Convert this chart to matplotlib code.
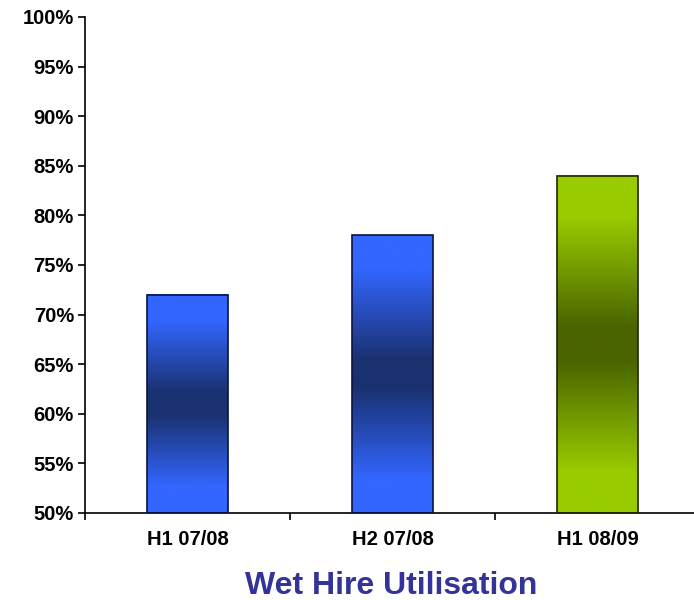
import numpy as np
import matplotlib.pyplot as plt
from matplotlib.colors import LinearSegmentedColormap
from matplotlib.patches import Rectangle

plt.rcParams['font.family'] = ['Liberation Sans', 'DejaVu Sans']

periods = ['H1 07/08', 'H2 07/08', 'H1 08/09']
utilisation = [72, 78, 84]
y_ticks = list(range(50, 101, 5))

# light -> dark -> light shading for each bar
bar_styles = [
    ('#3366ff', '#1a3170', '#0a1440'),
    ('#3366ff', '#1a3170', '#0a1440'),
    ('#99cc00', '#4a6400', '#1e2800'),
]

fig = plt.figure(figsize=(6.94, 6.0), dpi=100)
# category axis runs slightly past the right edge of the canvas
ax = fig.add_axes([85 / 694, 1 - 513 / 600, 615 / 694, 496 / 600])

ax.set_xlim(-0.5, len(periods) - 0.5)
ax.set_ylim(50, 100)

width = 0.395
grad = np.linspace(0, 1, 256).reshape(-1, 1)
for i, (val, (light, dark, edge)) in enumerate(zip(utilisation, bar_styles)):
    cmap = LinearSegmentedColormap.from_list(
        f'bar{i}', [(0.0, light), (0.12, light), (0.45, dark), (0.55, dark),
                    (0.88, light), (1.0, light)])
    x0, x1 = i - width / 2, i + width / 2
    ax.imshow(grad, cmap=cmap, aspect='auto', extent=(x0, x1, 50, val),
              origin='lower', interpolation='bilinear', zorder=2)
    ax.add_patch(Rectangle((x0, 50), width, val - 50, fill=False,
                           edgecolor=edge, linewidth=1.2, zorder=3))

ax.set_yticks(y_ticks)
ax.set_yticklabels([f'{t}%' for t in y_ticks], fontsize=14.5, fontweight='bold')
ax.set_xticks(range(len(periods)))
ax.set_xticklabels(periods, fontsize=14.5, fontweight='bold')
ax.tick_params(axis='x', length=0, pad=12)
ax.set_xticks(np.arange(-0.5, len(periods), 1), minor=True)
ax.tick_params(axis='x', which='minor', length=5, width=1.2, direction='out')
ax.tick_params(axis='y', length=5, width=1.2, direction='out', pad=3)

for side in ('top', 'right'):
    ax.spines[side].set_visible(False)
for side in ('left', 'bottom'):
    ax.spines[side].set_linewidth(1.2)
ax.set_xlim(-0.5, len(periods) - 0.5)

fig.text(391 / 694, 1 - 586 / 600, 'Wet Hire Utilisation', fontsize=23,
         fontweight='bold', color='#333399', ha='center', va='center')

fig.savefig('out.png', dpi=100)
